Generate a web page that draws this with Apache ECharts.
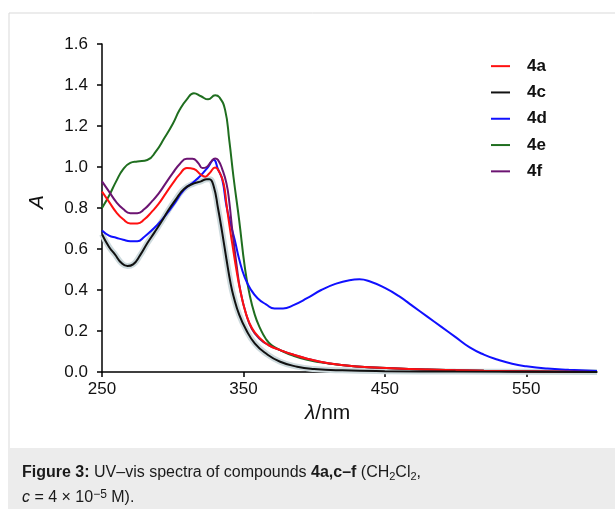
<!DOCTYPE html>
<html>
<head>
<meta charset="utf-8">
<script src="https://cdn.jsdelivr.net/npm/echarts@6/dist/echarts.min.js"></script>
<style>
html,body{margin:0;padding:0;background:#fff;}
#c{width:615px;height:509px;}
</style>
</head>
<body>
<div id="c"></div>
<script>
// ---- data ----
const xTicks = [250, 350, 450, 550];
const yTicks = [0, 0.2, 0.4, 0.6, 0.8, 1.0, 1.2, 1.4, 1.6];

const wl4a = [250,255,260,265,270,275,280,285,290,295,300,305,310,315,320,323,326,330,333,336,338,340,342,345,348,352,356,361,368,376,385,395,410,430,455,480,520,560,600];
const abs4a = [0.88,0.83,0.78,0.745,0.725,0.725,0.745,0.78,0.82,0.87,0.92,0.965,0.995,0.99,0.962,0.953,0.97,0.998,0.975,0.92,0.82,0.72,0.63,0.50,0.39,0.28,0.215,0.17,0.13,0.107,0.085,0.065,0.043,0.027,0.018,0.012,0.006,0.003,0.0];

const wl4c = [250,255,259,264,268,272,277,282,287,292,297,302,308,315,320,324,326,329,332,335,338,341,343,347,352,358,366,376,388,400,420,450,500,600];
const abs4c = [0.672,0.61,0.575,0.53,0.517,0.525,0.57,0.628,0.68,0.733,0.79,0.84,0.893,0.92,0.93,0.94,0.94,0.905,0.80,0.68,0.55,0.43,0.37,0.28,0.205,0.14,0.09,0.05,0.026,0.015,0.008,0.004,0.002,0.0];

const wl4d = [250,255,260,265,270,275,280,285,292,300,308,315,320,325,329,332,335,338,341,344,347,351,355,360,366,372,378,385,395,405,415,425,432,440,450,460,470,480,490,500,510,520,530,540,550,565,580,600];
const abs4d = [0.69,0.665,0.655,0.645,0.638,0.638,0.66,0.69,0.74,0.81,0.888,0.928,0.96,1.0,1.035,0.99,0.94,0.81,0.72,0.64,0.55,0.46,0.405,0.36,0.33,0.31,0.31,0.325,0.36,0.40,0.43,0.448,0.452,0.44,0.41,0.37,0.32,0.27,0.22,0.17,0.12,0.085,0.06,0.04,0.028,0.017,0.011,0.005];

const wl4e = [250,255,260,265,270,275,282,288,294,300,305,310,315,320,325,330,333,337,340,343,347,351,354,358,362,366,370,376,385,395,410,430,455,480,520,560,600];
const abs4e = [0.80,0.86,0.93,0.99,1.02,1.027,1.034,1.075,1.14,1.21,1.28,1.33,1.36,1.345,1.33,1.35,1.34,1.28,1.13,0.95,0.74,0.51,0.39,0.28,0.21,0.16,0.13,0.107,0.08,0.06,0.042,0.027,0.018,0.012,0.006,0.003,0.0];

const wl4f = [250,255,260,265,270,275,280,285,290,295,300,305,310,314,318,321,324,327,330,332,335,338,340,342,345,348,352,356,361,368,376,385,395,410,430,455,480,520,560,600];
const abs4f = [0.93,0.88,0.83,0.795,0.775,0.775,0.795,0.83,0.87,0.92,0.97,1.015,1.04,1.04,1.02,0.995,1.0,1.025,1.042,1.035,0.99,0.92,0.83,0.70,0.53,0.39,0.28,0.21,0.165,0.13,0.107,0.085,0.065,0.043,0.027,0.018,0.012,0.006,0.003,0.0];

const names = ['4a','4c','4d','4e','4f'];
const colors = {'4a':'#ff1010','4c':'#111111','4d':'#1010ff','4e':'#1f6e1f','4f':'#6c1472'};

function pairs(xs, ys){ return xs.map((x,i)=>[x, ys[i]]); }

const chart = echarts.init(document.getElementById('c'), null, {renderer:'canvas'});
const FONT = '"Liberation Sans", Arial, sans-serif';
const SM = 0.5;

function lineSeries(name, data, z){
  return {
    name: name, type:'line', data: data, smooth: SM, showSymbol:false, symbol:'none',
    lineStyle:{color: colors[name], width:2}, itemStyle:{color: colors[name]}, z: z, animation:false
  };
}

chart.setOption({
  animation:false,
  backgroundColor:'#ffffff',
  grid:{left:102, right:18, top:44, bottom:137},
  legend:{
    data: names, orient:'vertical', left:486, top:52,
    icon:'rect', itemWidth:19, itemHeight:2, itemGap:8,
    textStyle:{fontFamily:FONT, fontSize:17, fontWeight:'bold', color:'#111', padding:[0,0,0,12], lineHeight:18.3}
  },
  xAxis:{
    type:'value', min:250, max:600,
    axisLine:{lineStyle:{color:'#000', width:1.5}},
    axisTick:{show:true, length:5, customValues: xTicks, lineStyle:{color:'#000', width:1.5}},
    axisLabel:{customValues: xTicks, fontFamily:FONT, fontSize:17, color:'#111', margin:9},
    splitLine:{show:false}
  },
  yAxis:{
    type:'value', min:0, max:1.6, interval:0.2,
    axisLine:{show:true, lineStyle:{color:'#000', width:1.5}},
    axisTick:{show:true, length:5, lineStyle:{color:'#000', width:1.5}},
    axisLabel:{fontFamily:FONT, fontSize:17, color:'#111', margin:14, formatter:v=>v.toFixed(1)},
    splitLine:{show:false}
  },
  graphic:[
    {type:'rect', shape:{x:9, y:13, width:640, height:600}, style:{fill:'none', stroke:'#d9d9d9', lineWidth:1}, z:-10, silent:true},
    {type:'rect', shape:{x:9.5, y:448, width:620, height:70}, style:{fill:'#ececec'}, z:-9, silent:true},
    {type:'text', left:27, top:195, rotation:Math.PI/2, style:{text:'A', font:'italic 21px "Liberation Sans", Arial, sans-serif', fill:'#111'}},
    {type:'text', left:305, top:403, style:{
      text:'{i|λ}/nm', fill:'#111',
      rich:{i:{fontStyle:'italic', fontFamily:FONT, fontSize:21, fill:'#111'}},
      fontFamily:FONT, fontSize:21
    }},
    {type:'text', left:22, top:464, style:{
      text:'{b|Figure 3:} UV–vis spectra of compounds {b|4a,c–f} (CH{s|2}Cl{s|2},',
      fontFamily:FONT, fontSize:16, lineHeight:18, fill:'#1a1a1a',
      rich:{
        b:{fontWeight:'bold', fontFamily:FONT, fontSize:16, lineHeight:18, fill:'#1a1a1a'},
        s:{fontFamily:FONT, fontSize:11, lineHeight:10, verticalAlign:'bottom', fill:'#1a1a1a'}
      }
    }},
    {type:'text', left:22, top:489, style:{
      text:'{i|c} = 4 × 10{p|−5} M).',
      fontFamily:FONT, fontSize:16, lineHeight:18, fill:'#1a1a1a',
      rich:{
        i:{fontStyle:'italic', fontFamily:FONT, fontSize:16, lineHeight:18, fill:'#1a1a1a'},
        p:{fontFamily:FONT, fontSize:12, lineHeight:8, verticalAlign:'top', fill:'#1a1a1a'}
      }
    }}
  ],
  series:[
    lineSeries('4e', pairs(wl4e, abs4e), 2),
    lineSeries('4d', pairs(wl4d, abs4d), 3),
    lineSeries('4f', pairs(wl4f, abs4f), 4),
    lineSeries('4a', pairs(wl4a, abs4a), 5),
    {name:'4c halo', type:'line', data: pairs(wl4c, abs4c), smooth:SM, showSymbol:false, symbol:'none',
     lineStyle:{color:'#cddadd', width:6}, z:1, animation:false, legendHoverLink:false},
    lineSeries('4c', pairs(wl4c, abs4c), 6)
  ]
});
</script>
</body>
</html>
